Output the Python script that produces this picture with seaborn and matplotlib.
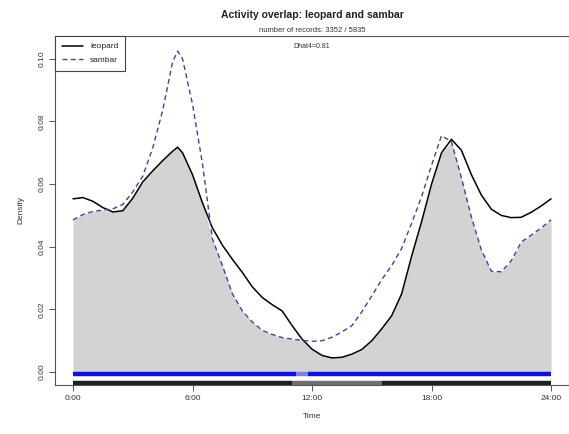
import matplotlib
matplotlib.use("Agg")
import matplotlib.pyplot as plt
import seaborn as sns
import pandas as pd

# ---- data ----
hours = [0, 0.5, 1, 1.5, 2, 2.5, 3, 3.5, 4, 4.5, 5, 5.25, 5.5, 6, 6.5, 7, 7.5, 8, 8.5,
         9, 9.5, 10, 10.5, 11, 11.5, 12, 12.5, 13, 13.5, 14, 14.5, 15, 15.5, 16, 16.5,
         17, 17.5, 18, 18.5, 19, 19.5, 20, 20.5, 21, 21.5, 22, 22.5, 23, 23.5, 24]
leopard = [0.0553, 0.0557, 0.0545, 0.0525, 0.0511, 0.0515, 0.0555, 0.0607, 0.0642, 0.0675,
           0.0705, 0.0718, 0.0700, 0.0630, 0.0540, 0.0460, 0.0405, 0.0360, 0.0318, 0.0272,
           0.0238, 0.0215, 0.0195, 0.0148, 0.0105, 0.0073, 0.0053, 0.0045, 0.0047, 0.0057,
           0.0072, 0.0100, 0.0138, 0.0180, 0.0250, 0.0370, 0.0480, 0.0600, 0.0700, 0.0743,
           0.0708, 0.0630, 0.0565, 0.0520, 0.0500, 0.0493, 0.0494, 0.0510, 0.0530, 0.0553]
sambar = [0.0486, 0.0503, 0.0513, 0.0517, 0.0521, 0.0535, 0.0575, 0.0625, 0.0715, 0.0835,
          0.0990, 0.1025, 0.1000, 0.0855, 0.0665, 0.0425, 0.0340, 0.0250, 0.0195, 0.0160,
          0.0133, 0.0120, 0.0110, 0.0105, 0.0101, 0.0098, 0.0100, 0.0111, 0.0128, 0.0148,
          0.0192, 0.0243, 0.0295, 0.0340, 0.0395, 0.0475, 0.0560, 0.0660, 0.0755, 0.0735,
          0.0620, 0.0495, 0.0390, 0.0322, 0.0320, 0.0355, 0.0415, 0.0437, 0.0460, 0.0486]

# rug coverage (hours) : dense and sparse stretches of records
leopard_rug_dense = [(0.0, 11.0), (15.5, 24.0)]
leopard_rug_sparse = [(11.0, 15.5)]
sambar_rug_dense = [(0.0, 11.2), (11.8, 24.0)]
sambar_rug_sparse = [(11.2, 11.8)]

xtick_vals = [0, 6, 12, 18, 24]
xtick_labels = ["0:00", "6:00", "12:00", "18:00", "24:00"]
ytick_vals = [0.00, 0.02, 0.04, 0.06, 0.08, 0.10]
ytick_labels = ["0.00", "0.02", "0.04", "0.06", "0.08", "0.10"]

title = "Activity overlap: leopard and sambar"
subtitle = "number of records: 3352 / 5835"
estimate = "Dhat4=0.81"

# ---- plotting ----
sns.set_style("white")
plt.rcParams["font.family"] = ["Liberation Sans", "DejaVu Sans"]

df = pd.DataFrame({"hour": hours, "leopard": leopard, "sambar": sambar})
df["overlap"] = df[["leopard", "sambar"]].min(axis=1)

fig = plt.figure(figsize=(5.69, 4.34), dpi=100)
ax = fig.add_axes([55 / 569, 1 - 385 / 434, 514 / 569, 349 / 434])

ax.fill_between(df["hour"], 0, df["overlap"], color="#d3d3d3", lw=0, zorder=1)
sns.lineplot(data=df, x="hour", y="leopard", ax=ax, color="black", lw=1.1,
             label="leopard", zorder=3)
sns.lineplot(data=df, x="hour", y="sambar", ax=ax, color="#4040a8", lw=1.0,
             linestyle=(0, (3.5, 2.5)), label="sambar", zorder=3)

for a, b in sambar_rug_dense:
    ax.hlines(-0.0007, a, b, color="#1010e0", lw=3.2, zorder=2)
for a, b in sambar_rug_sparse:
    ax.hlines(-0.0007, a, b, color="#8080e0", lw=3.2, zorder=2)
for a, b in leopard_rug_dense:
    ax.hlines(-0.0035, a, b, color="#202020", lw=3.2, zorder=2)
for a, b in leopard_rug_sparse:
    ax.hlines(-0.0035, a, b, color="#707070", lw=3.2, zorder=2)

ax.set_xlim(-0.904, 24.9)
ax.set_ylim(-0.00415, 0.1073)
ax.set_xticks(xtick_vals)
ax.set_xticklabels(xtick_labels, fontsize=6)
ax.set_yticks(ytick_vals)
ax.set_yticklabels(ytick_labels, fontsize=6, rotation=90, va="center")
ax.tick_params(axis="both", direction="out", length=4, width=0.7, color="#555555",
               left=True, bottom=True, pad=3, labelcolor="#333333")
for s in ax.spines.values():
    s.set_color("#555555")
    s.set_linewidth(0.8)

ax.set_xlabel("Time", fontsize=6, color="#333333", labelpad=8)
ax.set_ylabel("Density", fontsize=6, color="#333333", labelpad=10)

leg = ax.legend(loc="upper left", borderaxespad=0, fancybox=False, edgecolor="#444444",
                framealpha=1, fontsize=6, handlelength=2.6, borderpad=0.8,
                labelspacing=0.7)
leg.get_frame().set_linewidth(0.8)

fig.text(312 / 569, 1 - 15 / 434, title, ha="center", va="center",
         fontsize=7.5, fontweight="bold", color="#222222")
fig.text(312 / 569, 1 - 31 / 434, subtitle, ha="center", va="center",
         fontsize=5.5, color="#333333")
fig.text(312 / 569, 1 - 46 / 434, estimate, ha="center", va="center",
         fontsize=5, color="#333333")

fig.savefig("out.png", dpi=100)
